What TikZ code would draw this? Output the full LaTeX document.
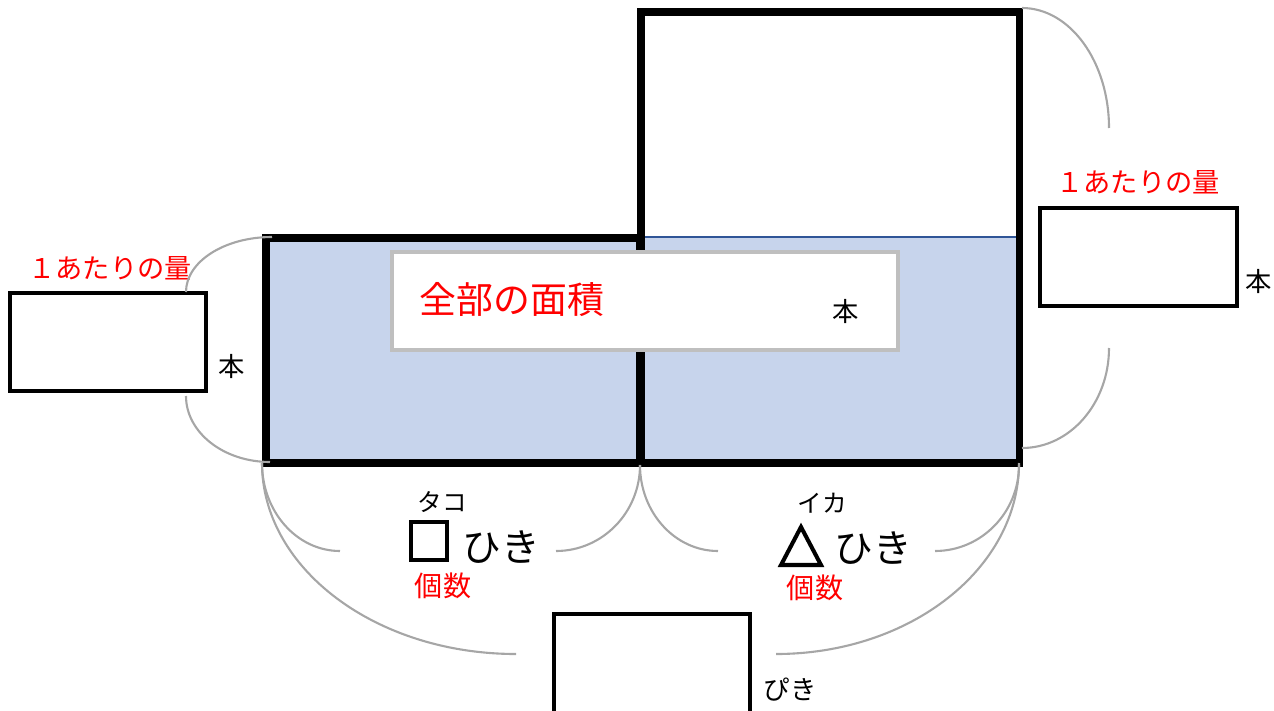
\documentclass[tikz,border=0pt]{standalone}
\usepackage{fontspec}
\setmainfont{Noto Sans CJK JP}
\usepackage{xcolor}
\usetikzlibrary{positioning}
\definecolor{areablue}{RGB}{199,212,236}
\definecolor{edgeblue}{RGB}{47,85,151}
\definecolor{bracegray}{RGB}{166,166,166}
\definecolor{framegray}{RGB}{191,191,191}
\tikzset{
    heavy/.style={draw=black, line width=4pt},
    ansbox/.style={draw=black, line width=2.5pt, fill=white},
    brace/.style={draw=bracegray, line width=1.2pt},
    redlbl/.style={text=red, inner sep=0pt, font=\fontsize{15.5}{18}\selectfont},
    unitlbl/.style={inner sep=0pt, font=\fontsize{15}{18}\selectfont},
    kanalbl/.style={inner sep=0pt, font=\fontsize{14}{16}\selectfont},
    bigkana/.style={inner sep=0pt, font=\fontsize{22}{26}\selectfont}
}

\begin{document}
\begin{tikzpicture}[x=0.02cm, y=-0.02cm]
\useasboundingbox (0,0) rectangle (1274,710);

% areas
\fill[areablue] (265,237) rectangle (1019,463);
\draw[edgeblue, line width=0.8pt] (641,237) -- (1019,237);
\draw[edgeblue, line width=0.8pt] (641,461) -- (1019,461);
\draw[heavy] (266,238) rectangle (640,463);
\draw[heavy] (641,12) rectangle (1019,463);

% total area box
\draw[framegray, line width=2pt, fill=white] (392,252) rectangle (898,350);
\node[text=red, inner sep=0pt, font=\fontsize{21}{24}\selectfont] at (512,300) (total) {全部の面積};
\node[unitlbl] at (846,311) (totalunit) {本};

% left amount
\draw[ansbox] (10,293) rectangle (206,391);
\node[redlbl] at (110,268) (leftq) {１あたりの量};
\node[unitlbl] at (232,366) (leftunit) {本};
\draw[brace] (272,237) arc[start angle=270, end angle=180, x radius=86, y radius=55];
\draw[brace] (186,396) arc[start angle=180, end angle=90, x radius=84, y radius=66];

% right amount
\draw[ansbox] (1040,208) rectangle (1237,306);
\node[redlbl] at (1138,182) (rightq) {１あたりの量};
\node[unitlbl] at (1259,281) (rightunit) {本};
\draw[brace] (1022,8) arc[start angle=270, end angle=360, x radius=87, y radius=120];
\draw[brace] (1109,348) arc[start angle=0, end angle=90, x radius=87, y radius=100];

% counts
\draw[brace] (262,463) arc[start angle=180, end angle=90, x radius=78, y radius=88];
\draw[brace] (556,551) arc[start angle=90, end angle=0, x radius=84, y radius=86];
\draw[brace] (640,465) arc[start angle=180, end angle=90, x radius=78, y radius=86];
\draw[brace] (935,551) arc[start angle=90, end angle=0, x radius=84, y radius=86];
\draw[brace] (262,463) arc[start angle=180, end angle=90, x radius=254, y radius=191];
\draw[brace] (776,654) arc[start angle=90, end angle=0, x radius=243, y radius=191];

\node[kanalbl] at (442,502) (tako) {タコ};
\node[draw, line width=2.3pt, minimum width=36*0.02cm, minimum height=38*0.02cm, inner sep=0pt]
    at (429,541) (sq) {};
\node[bigkana] at (501,547) (takohiki) {ひき};
\node[redlbl, font=\fontsize{16}{18}\selectfont] at (443,586) (takocount) {個数};

\node[kanalbl] at (822,503) (ika) {イカ};
\draw[line width=2.3pt, line join=miter] (781,565) -- (801,527) -- (821,565) -- cycle;
\node[bigkana] at (873,548) (ikahiki) {ひき};
\node[redlbl, font=\fontsize{16}{18}\selectfont] at (815,588) (ikacount) {個数};

% total count
\draw[ansbox] (554,614) rectangle (750,730);
\node[unitlbl] at (790,690) (bottomunit) {ぴき};
\end{tikzpicture}
\end{document}
